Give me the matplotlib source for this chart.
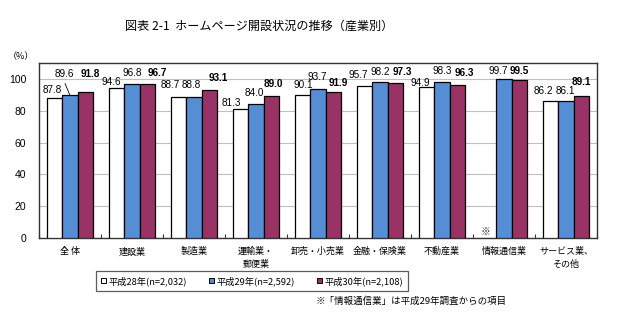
import numpy as np
import matplotlib
matplotlib.use("Agg")
import matplotlib.pyplot as plt
from matplotlib.patches import Patch

plt.rcParams['font.family'] = ['Noto Sans CJK JP', 'DejaVu Sans']

categories = ["全 体", "建設業", "製造業", "運輸業・\n郵便業", "卸売・小売業",
              "金融・保険業", "不動産業", "情報通信業", "サービス業、\nその他"]
h28 = [87.8, 94.6, 88.7, 81.3, 90.1, 95.7, 94.9, np.nan, 86.2]
h29 = [89.6, 96.8, 88.8, 84.0, 93.7, 98.2, 98.3, 99.7, 86.1]
h30 = [91.8, 96.7, 93.1, 89.0, 91.9, 97.3, 96.3, 99.5, 89.1]
series_labels = ["平成28年(n=2,032)", "平成29年(n=2,592)", "平成30年(n=2,108)"]
yticks = [0, 20, 40, 60, 80, 100]

colors = ["#FFFFFF", "#558ED5", "#993366"]

# value-label placement (pixel offsets from the bar's top centre)
label_dx = [
    [-2, -5.5, -8, -9.5, 0.5, -6.5, -6.5, 0, -7.5],
    [-6, 0.5, -3, -2, -0.5, 0, 0, -6, -1],
    [4.5, 9.5, 8.5, 1.5, 4.5, 6.5, 6.5, 0, -0.5],
]
label_dy = [
    [8.5, 5.5, 12, 5.7, 9.7, 10.8, 4, 0, 10],
    [21.5, 11, 11.8, 11.4, 12, 10, 10.7, 8.5, 10],
    [18, 11, 12, 12.5, 9, 11.3, 11.9, 8.8, 14],
]

fig = plt.figure(figsize=(6.2, 3.21), dpi=100)
ax = fig.add_axes([39 / 620, 1 - 238 / 321, (597 - 39) / 620, (238 - 63) / 321])

x = np.arange(len(categories))
w = 0.25
for i, (vals, c) in enumerate(zip([h28, h29, h30], colors)):
    pos = x + (i - 1) * w
    ax.bar(pos, vals, width=w, color=c, edgecolor="black", linewidth=0.9, zorder=3)
    for j, (p, v) in enumerate(zip(pos, vals)):
        if np.isnan(v):
            continue
        ax.annotate(f"{v:.1f}", xy=(p, v), xytext=(label_dx[i][j], label_dy[i][j]),
                    textcoords="offset pixels", ha="center", va="center",
                    fontsize=7.2, family=["Liberation Sans"],
                    fontweight="bold" if i == 2 else "normal", zorder=4)

# leader line for the raised 全体 平成29年 label
ax.annotate("", xy=(x[0], h29[0]), xytext=(-5, 12), textcoords="offset pixels",
            arrowprops=dict(arrowstyle="-", color="black", linewidth=0.6,
                            shrinkA=0, shrinkB=0))

# marker for the category that has no 平成28年 value
ax.text(x[7] - w - 0.05, 4, "※", ha="center", va="center", fontsize=7, color="#333333")

ax.set_xlim(-0.5, len(categories) - 0.5)
ax.set_ylim(0, 110)
ax.set_yticks(yticks)
ax.set_yticklabels([str(t) for t in yticks], fontsize=7.5, family=["Liberation Sans"])
ax.yaxis.grid(True, color="#BFBFBF", linewidth=0.8, zorder=0)
ax.set_axisbelow(True)
ax.tick_params(axis="y", length=0, pad=9)

ax.set_xticks(np.arange(len(categories) + 1) - 0.5)
ax.set_xticklabels([])
ax.tick_params(axis="x", length=3, direction="in", color="#333333")
for xi, lab in zip(x, categories):
    ax.annotate(lab, xy=(xi, 0), xytext=(0, -9), textcoords="offset pixels",
                ha="center", va="top", fontsize=6.5, linespacing=1.55)

for s in ax.spines.values():
    s.set_color("#333333")
    s.set_linewidth(1.0)

fig.text(8 / 620, 1 - 57 / 321, "（%）", fontsize=6.5, va="center", ha="left")
fig.text(259 / 620, 1 - 26 / 321, "図表 2-1  ホームページ開設状況の推移（産業別）",
         fontsize=8.7, ha="center", va="center")

handles = [Patch(facecolor=c, edgecolor="black", linewidth=0.7) for c in colors]
leg = fig.legend(handles, series_labels, loc="center", ncol=3,
                 bbox_to_anchor=(252 / 620, 1 - 281 / 321), fontsize=6.7,
                 frameon=True, fancybox=False, edgecolor="#333333",
                 handlelength=0.55, handleheight=0.55, handletextpad=0.25,
                 columnspacing=2.4, borderpad=0.5, borderaxespad=0)
leg.get_frame().set_linewidth(0.9)

fig.text(507 / 620, 1 - 301 / 321, "※「情報通信業」は平成29年調査からの項目",
         fontsize=6.8, ha="right", va="center")

fig.savefig("out.png", dpi=100, facecolor="white")
